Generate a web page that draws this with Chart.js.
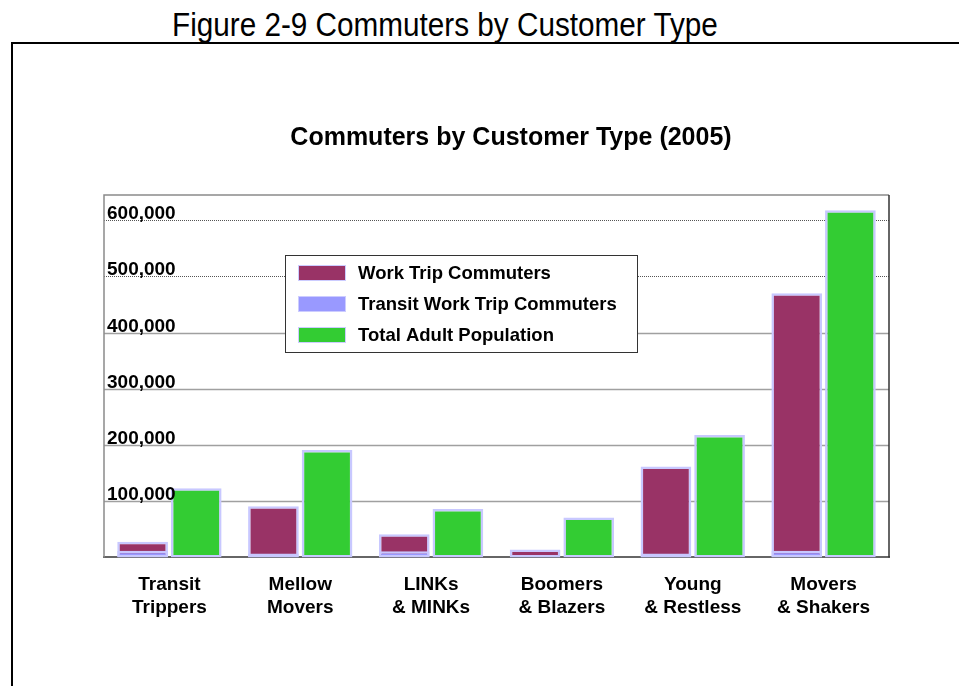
<!DOCTYPE html>
<html>
<head>
<meta charset="utf-8">
<script src="https://cdn.jsdelivr.net/npm/chart.js@4.4.1/dist/chart.umd.min.js"></script>
<style>
  html, body { margin: 0; padding: 0; background: #fff; }
  #wrap { position: relative; width: 959px; height: 686px; overflow: hidden; }
  #heading {
    position: absolute; left: 172px; top: 6px; margin: 0;
    font: 33px "Liberation Sans", Arial, sans-serif; line-height: 38px;
    transform: scaleX(0.9); transform-origin: 0 0;
    color: #000; white-space: nowrap; font-weight: normal;
  }
  #frame {
    position: absolute; left: 11px; top: 42px; width: 960px; height: 700px;
    border-top: 2px solid #000; border-left: 2px solid #000;
  }
  canvas { position: absolute; left: 0; top: 0; }
</style>
</head>
<body>
<div id="wrap">
  <h1 id="heading">Figure 2-9 Commuters by Customer Type</h1>
  <div id="frame"></div>
  <canvas id="chart" width="959" height="686"></canvas>
</div>
<script>
const categories = [
  ["Transit", "Trippers"],
  ["Mellow", "Movers"],
  ["LINKs", "& MINKs"],
  ["Boomers", "& Blazers"],
  ["Young", "& Restless"],
  ["Movers", "& Shakers"]
];
const workTrip = [28000, 91000, 41000, 14000, 162000, 470000];
const transitWorkTrip = [12000, 7000, 11000, 1000, 7000, 12000];
const totalAdult = [123000, 191000, 86000, 71000, 218000, 618000];
const yTicks = [100000, 200000, 300000, 400000, 500000, 600000];

const BOLD = "bold 19px 'Liberation Sans', Arial, sans-serif";

const frameAndGrid = {
  id: "frameAndGrid",
  beforeDatasetsDraw(chart) {
    const { ctx, chartArea: a, scales: { y } } = chart;
    ctx.save();
    yTicks.forEach((v) => {
      const py = Math.round(y.getPixelForValue(v)) + 0.5;
      ctx.beginPath();
      if (v >= 500000) {
        ctx.setLineDash([1, 1]);
        ctx.strokeStyle = "#555";
        ctx.lineWidth = 1;
      } else {
        ctx.setLineDash([]);
        ctx.strokeStyle = "#a0a0a0";
        ctx.lineWidth = 1.5;
      }
      ctx.moveTo(a.left, py);
      ctx.lineTo(a.right, py);
      ctx.stroke();
    });
    ctx.setLineDash([]);
    ctx.lineWidth = 1.5;
    ctx.strokeStyle = "#8a8a8a";
    ctx.beginPath();
    ctx.moveTo(a.left, a.bottom);
    ctx.lineTo(a.left, a.top);
    ctx.lineTo(a.right, a.top);
    ctx.stroke();
    ctx.strokeStyle = "#333";
    ctx.beginPath();
    ctx.moveTo(a.right, a.top);
    ctx.lineTo(a.right, a.bottom);
    ctx.stroke();
    ctx.restore();
  },
  afterDraw(chart) {
    const { ctx, chartArea: a, scales: { y } } = chart;
    ctx.save();
    // chart title
    ctx.fillStyle = "#000";
    ctx.font = "bold 25px 'Liberation Sans', Arial, sans-serif";
    ctx.textAlign = "center";
    ctx.textBaseline = "middle";
    ctx.fillText("Commuters by Customer Type (2005)", 511, 138);

    // y tick labels sit inside the plot, on top of their grid lines
    ctx.font = BOLD;
    ctx.textAlign = "left";
    ctx.textBaseline = "alphabetic";
    yTicks.forEach((v) => {
      const py = y.getPixelForValue(v);
      ctx.fillText(v.toLocaleString("en-US"), a.left + 3, py - 1);
    });

    // legend box
    const lx = 285, ly = 255, lw = 352, lh = 97;
    ctx.fillStyle = "#fff";
    ctx.fillRect(lx, ly, lw, lh);
    ctx.strokeStyle = "#333";
    ctx.lineWidth = 1;
    ctx.strokeRect(lx + 0.5, ly + 0.5, lw, lh);
    ctx.font = "bold 18.5px 'Liberation Sans', Arial, sans-serif";
    ctx.textBaseline = "middle";
    chart.data.datasets.forEach((ds, i) => {
      const cy = 273 + i * 31;
      ctx.fillStyle = ds.backgroundColor;
      ctx.fillRect(298, cy - 8, 48, 16);
      ctx.strokeStyle = "#ccccff";
      ctx.strokeRect(298.5, cy - 7.5, 47, 15);
      ctx.fillStyle = "#000";
      ctx.fillText(ds.label, 358, cy + 1);
    });
    ctx.restore();
  }
};

new Chart(document.getElementById("chart"), {
  type: "bar",
  data: {
    labels: categories,
    datasets: [
      {
        label: "Work Trip Commuters",
        data: workTrip,
        backgroundColor: "#993366",
        stack: "commuters",
        order: 1
      },
      {
        label: "Transit Work Trip Commuters",
        data: transitWorkTrip,
        backgroundColor: "#9999ff",
        stack: "commuters",
        order: 0
      },
      {
        label: "Total Adult Population",
        data: totalAdult,
        backgroundColor: "#33cc33",
        stack: "population",
        order: 2
      }
    ]
  },
  options: {
    responsive: false,
    animation: false,
    layout: { padding: { left: 104, right: 70, top: 195, bottom: 59 } },
    datasets: {
      bar: {
        borderColor: "#c8c8ff",
        borderWidth: 2.5,
        borderSkipped: false,
        categoryPercentage: 0.82,
        barPercentage: 0.945
      }
    },
    scales: {
      x: {
        grid: { display: false },
        border: { color: "#666", width: 2 },
        ticks: {
          color: "#000",
          font: { family: "'Liberation Sans', Arial, sans-serif", size: 19, weight: "bold", lineHeight: 1.2 },
          padding: 8,
          maxRotation: 0
        }
      },
      y: {
        display: false,
        stacked: false,
        min: 0,
        max: 645000
      }
    },
    plugins: {
      legend: { display: false },
      tooltip: { enabled: false }
    }
  },
  plugins: [frameAndGrid]
});
</script>
</body>
</html>
